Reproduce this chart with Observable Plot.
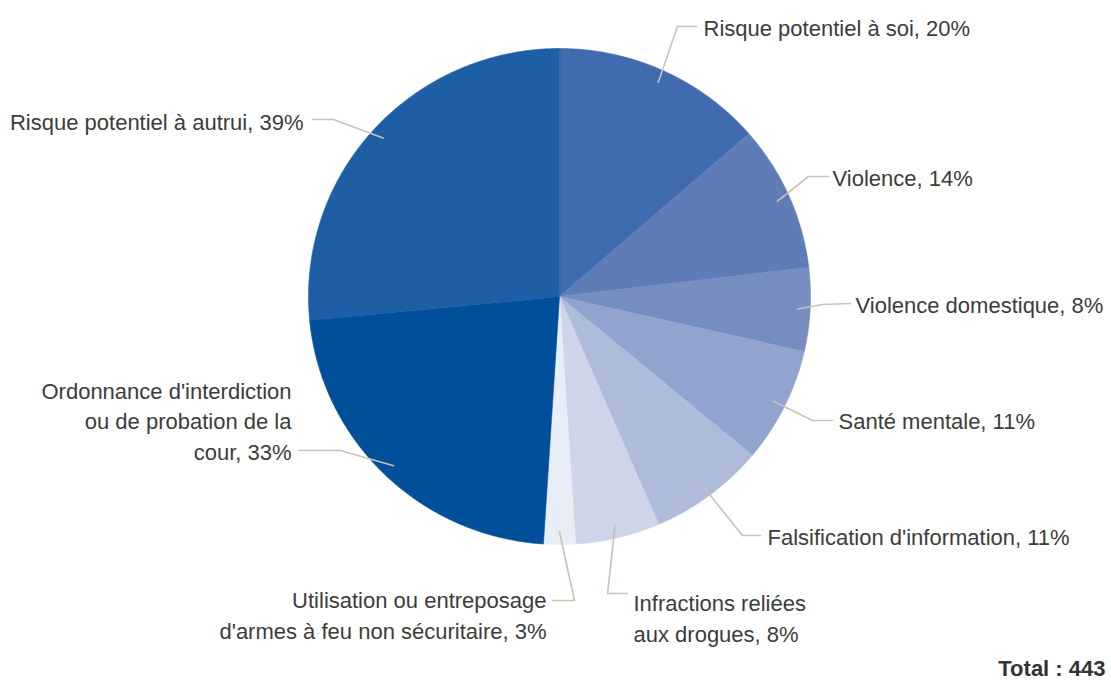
<!DOCTYPE html>
<html><head><meta charset="utf-8">
<script src="https://cdn.jsdelivr.net/npm/d3@7"></script>
<script src="https://cdn.jsdelivr.net/npm/@observablehq/plot@0.6"></script>
<style>body{margin:0;background:#fff}#chart{width:1111px;height:681px}</style>
</head><body><div id="chart"></div>
<script>
// ---- data ----
const categories = [
  "Risque potentiel à soi",
  "Violence",
  "Violence domestique",
  "Santé mentale",
  "Falsification d'information",
  "Infractions reliées aux drogues",
  "Utilisation ou entreposage d'armes à feu non sécuritaire",
  "Ordonnance d'interdiction ou de probation de la cour",
  "Risque potentiel à autrui"
];
const values = [20, 14, 8, 11, 11, 8, 3, 33, 39];
const labelTexts = [
  "Risque potentiel à soi, 20%",
  "Violence, 14%",
  "Violence domestique, 8%",
  "Santé mentale, 11%",
  "Falsification d'information, 11%",
  "Infractions reliées\naux drogues, 8%",
  "Utilisation ou entreposage\nd'armes à feu non sécuritaire, 3%",
  "Ordonnance d'interdiction\nou de probation de la\ncour, 33%",
  "Risque potentiel à autrui, 39%"
];
const totalText = "Total : 443";

// ---- style / layout ----
const colors = ["#416baf", "#5e7cb6", "#768dc1", "#92a3ce", "#aebbdb", "#ced5e9", "#e9edf6", "#004f9b", "#1e5ea4"];
const W = 1111, H = 681, CX = 559, CY = 296, RX = 251, RY = 248;
// leader elbow and end points, label anchor (pixels) per slice
const layout = [
  {elbow: [677, 26], end: [696, 26], tx: 703, ty: 26, anchor: "start"},
  {elbow: [808, 176], end: [828, 176], tx: 832, ty: 176, anchor: "start"},
  {elbow: [822, 304], end: [850, 303], tx: 855, ty: 303, anchor: "start"},
  {elbow: [812, 420], end: [832, 420], tx: 838, ty: 419, anchor: "start"},
  {elbow: [742, 535], end: [760, 535], tx: 767, ty: 535, anchor: "start"},
  {elbow: [607, 593], end: [627, 593], tx: 633, ty: 616, anchor: "start"},
  {elbow: [574, 600], end: [552, 600], tx: 546, ty: 613, anchor: "end"},
  {elbow: [340, 450], end: [298, 450], tx: 291, ty: 419, anchor: "end"},
  {elbow: [333, 119], end: [312, 119], tx: 303, ty: 120, anchor: "end"}
];

const arcs = d3.pie().sort(null).startAngle(0).endAngle(2 * Math.PI)(values);
const px = (a, r) => CX + RX * r * Math.sin(a);
const py = (a, r) => CY - RY * r * Math.cos(a);

const slicePts = [];
arcs.forEach((a, i) => {
  const cat = categories[i];
  slicePts.push({cat, x: CX, y: CY});
  const n = Math.max(2, Math.ceil((a.endAngle - a.startAngle) / 0.005));
  for (let k = 0; k <= n; k++) {
    const t = a.startAngle + (a.endAngle - a.startAngle) * k / n;
    slicePts.push({cat, x: px(t, 1), y: py(t, 1)});
  }
});

const leaderPts = [];
const labelRows = [];
arcs.forEach((a, i) => {
  const m = (a.startAngle + a.endAngle) / 2;
  const L = layout[i];
  leaderPts.push({id: i, x: px(m, 0.95), y: py(m, 0.95)});
  leaderPts.push({id: i, x: L.elbow[0], y: L.elbow[1]});
  leaderPts.push({id: i, x: L.end[0], y: L.end[1]});
  labelRows.push({text: labelTexts[i], x: L.tx, y: L.ty, anchor: L.anchor});
});

const font = "Liberation Sans, Arial, sans-serif";
const chart = Plot.plot({
  width: W, height: H,
  margin: 0,
  x: {domain: [0, W], range: [0, W], axis: null},
  y: {domain: [0, H], range: [0, H], axis: null},
  color: {domain: categories, range: colors},
  style: {fontFamily: font, background: "#fff"},
  marks: [
    Plot.line(slicePts, {x: "x", y: "y", z: "cat", fill: "cat", stroke: "cat", strokeWidth: 0.6, curve: "linear-closed"}),
    Plot.line(leaderPts, {x: "x", y: "y", z: "id", stroke: "#c8c3b2", strokeWidth: 1.6}),
    Plot.text(labelRows.filter(d => d.anchor === "start"), {x: "x", y: "y", text: "text", textAnchor: "start", lineAnchor: "middle", lineHeight: 1.4, fontSize: 22, fill: "#3c3c3c"}),
    Plot.text(labelRows.filter(d => d.anchor === "end"), {x: "x", y: "y", text: "text", textAnchor: "end", lineAnchor: "middle", lineHeight: 1.4, fontSize: 22, fill: "#3c3c3c"}),
    Plot.text([totalText], {x: () => 1105, y: () => 668, text: d => d, textAnchor: "end", lineAnchor: "middle", fontSize: 22, fontWeight: "bold", fill: "#333"})
  ]
});
document.getElementById("chart").append(chart);
</script>
</body></html>
